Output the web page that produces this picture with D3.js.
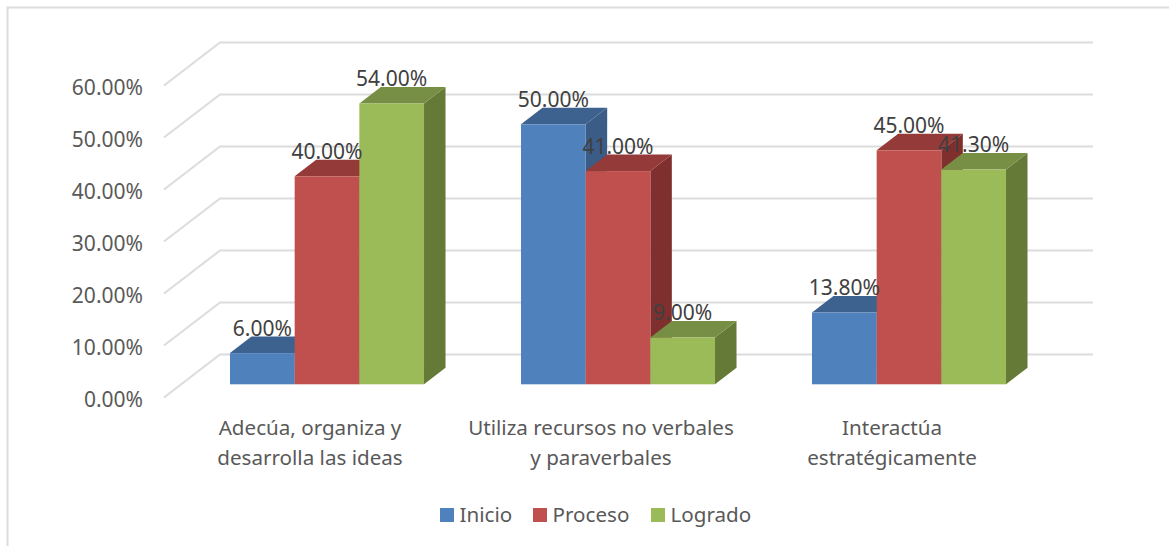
<!DOCTYPE html>
<html>
<head>
<meta charset="utf-8">
<script src="https://cdn.jsdelivr.net/npm/d3@7"></script>
<style>
  html, body { margin: 0; padding: 0; background: #fff; }
  svg { display: block; font-family: "Noto Sans", sans-serif; }
</style>
</head>
<body>
<div id="chart"></div>
<script>
const categories = [
  ['Adecúa, organiza y', 'desarrolla las ideas'],
  ['Utiliza recursos no verbales', 'y paraverbales'],
  ['Interactúa', 'estratégicamente']
];
const seriesNames = ['Inicio', 'Proceso', 'Logrado'];
const inicioValues = [6, 50, 13.8];
const procesoValues = [40, 41, 45];
const logradoValues = [54, 9, 41.3];
const yTicks = [0, 10, 20, 30, 40, 50, 60];

const seriesValues = [inicioValues, procesoValues, logradoValues];
const frontColors = ['#4f81bd', '#c0504d', '#9bbb59'];
const topColors = ['#3d628f', '#943a38', '#778f45'];
const sideColors = ['#3a5c87', '#7f2f2d', '#657a37'];

const width = 1169;
const height = 546;
const axisColor = '#595959';
const labelColor = '#404040';
const gridColor = '#dcdcdc';
const fontSize = '21px';
const catFontSize = '20.6px';

// oblique projection: full floor depth, and where the bars sit in it
const floorDx = 56;
const floorDy = -43;
const barOffsetDx = 17.5;
const barOffsetDy = -13.2;
const barDepthDx = 21.5;
const barDepthDy = -16.6;

const svg = d3.select('#chart').append('svg')
  .attr('width', width)
  .attr('height', height);

svg.append('path')
  .attr('d', `M7.5,${height}V7.5H${width}`)
  .attr('fill', 'none')
  .attr('stroke', gridColor)
  .attr('stroke-width', 2);

const xScale = d3.scaleBand()
  .domain(d3.range(categories.length))
  .range([164, 1037]);

const seriesScale = d3.scaleBand()
  .domain(d3.range(seriesNames.length))
  .range([0, xScale.bandwidth()])
  .paddingOuter(0.5 * 97 / 64.7);

const yScale = d3.scaleLinear()
  .domain([0, 60])
  .range([397.5, 85.5]);

const yAxis = d3.axisLeft(yScale)
  .tickValues(yTicks)
  .tickSize(0)
  .tickPadding(21)
  .tickFormat(d => d3.format('.2f')(d) + '%');

const yAxisElement = svg.append('g')
  .attr('transform', `translate(${xScale.range()[0]}, 0)`)
  .call(yAxis);

yAxisElement.select('.domain').remove();
yAxisElement.selectAll('text')
  .attr('fill', axisColor)
  .attr('font-size', fontSize)
  .attr('font-family', '"Noto Sans", sans-serif')
  .attr('dy', '0.41em');

const grid = svg.append('g')
  .attr('fill', 'none')
  .attr('stroke', gridColor)
  .attr('stroke-width', 2);

grid.selectAll('path')
  .data(yTicks)
  .join('path')
  .attr('d', d => {
    const [x0, x1] = xScale.range();
    const y = yScale(d);
    return `M${x0},${y}L${x0 + floorDx},${y + floorDy}H${x1 + floorDx}`;
  });

const bars = svg.append('g');

function renderBar(catIndex, serIndex) {
  const value = seriesValues[serIndex][catIndex];
  const x0 = xScale(catIndex) + seriesScale(serIndex) + barOffsetDx;
  const x1 = x0 + seriesScale.bandwidth();
  const yBase = yScale(0) + barOffsetDy;
  const yTop = yScale(value) + barOffsetDy;
  const group = bars.append('g');

  group.append('path')
    .attr('fill', sideColors[serIndex])
    .attr('d', `M${x1},${yTop}l${barDepthDx},${barDepthDy}V${yBase + barDepthDy}L${x1},${yBase}Z`);

  group.append('path')
    .attr('fill', topColors[serIndex])
    .attr('d', `M${x0},${yTop}l${barDepthDx},${barDepthDy}H${x1 + barDepthDx}L${x1},${yTop}Z`);

  group.append('rect')
    .attr('x', x0)
    .attr('y', yTop)
    .attr('width', x1 - x0)
    .attr('height', yBase - yTop)
    .attr('fill', frontColors[serIndex]);
}

categories.forEach((_, catIndex) => {
  seriesNames.forEach((_, serIndex) => renderBar(catIndex, serIndex));
});

const dataLabels = svg.append('g')
  .attr('fill', labelColor)
  .attr('font-size', fontSize)
  .attr('text-anchor', 'middle');

categories.forEach((_, catIndex) => {
  seriesNames.forEach((_, serIndex) => {
    const value = seriesValues[serIndex][catIndex];
    dataLabels.append('text')
      .attr('x', xScale(catIndex) + seriesScale(serIndex) + seriesScale.bandwidth() / 2 + barOffsetDx)
      .attr('y', yScale(value) + barOffsetDy - 24.5)
      .attr('dy', '0.35em')
      .text(d3.format('.2f')(value) + '%');
  });
});

const catLabels = svg.append('g')
  .attr('fill', axisColor)
  .attr('font-size', catFontSize)
  .attr('text-anchor', 'middle');

categories.forEach((lines, catIndex) => {
  lines.forEach((line, lineIndex) => {
    catLabels.append('text')
      .attr('x', xScale(catIndex) + xScale.bandwidth() / 2 + 0.5)
      .attr('y', 428 + lineIndex * 30)
      .attr('dy', '0.35em')
      .text(line);
  });
});

const legendX = [440, 533, 651];
const legend = svg.append('g');

seriesNames.forEach((name, i) => {
  legend.append('rect')
    .attr('x', legendX[i])
    .attr('y', 508)
    .attr('width', 14)
    .attr('height', 14)
    .attr('fill', frontColors[i]);
  legend.append('text')
    .attr('x', legendX[i] + 19.5)
    .attr('y', 515)
    .attr('dy', '0.35em')
    .attr('fill', axisColor)
    .attr('font-size', catFontSize)
    .text(name);
});
</script>
</body>
</html>
